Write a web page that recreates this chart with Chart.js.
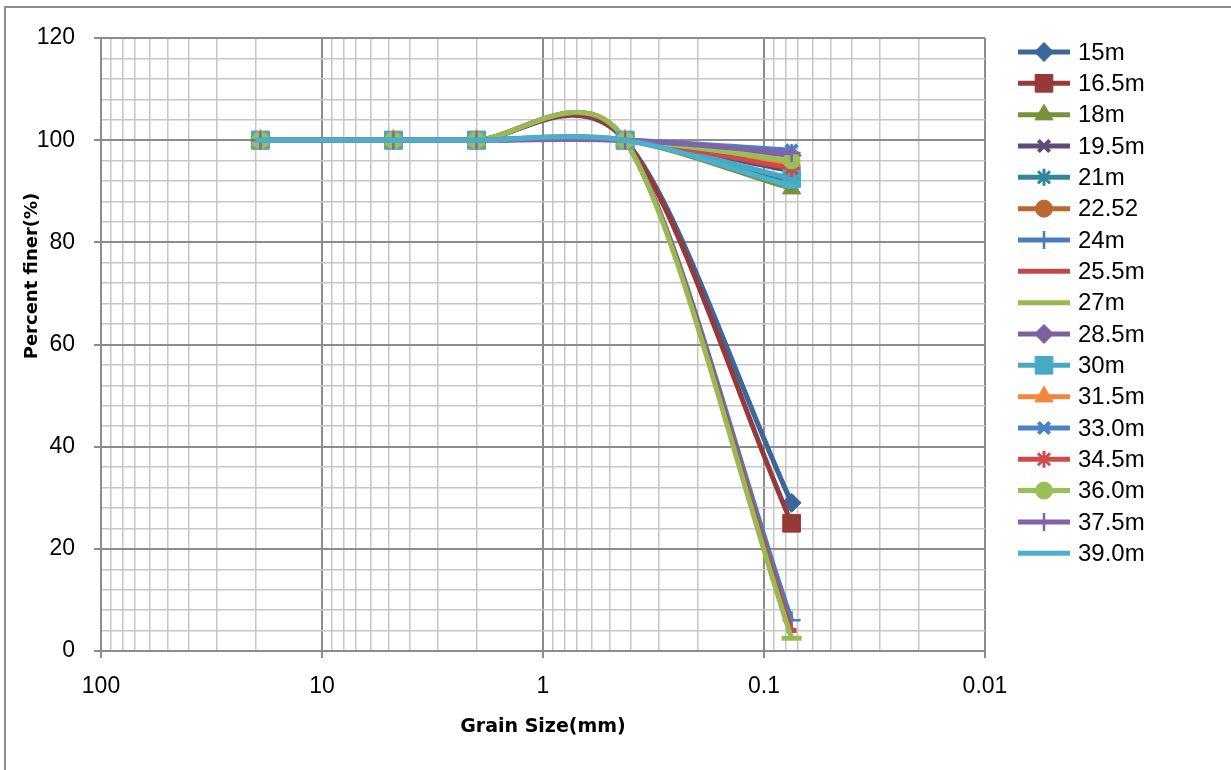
<!DOCTYPE html>
<html>
<head>
<meta charset="utf-8">
<script src="https://cdn.jsdelivr.net/npm/chart.js@4.4.1/dist/chart.umd.min.js"></script>
<style>
html,body{margin:0;padding:0;background:#ffffff;}
#wrap{position:relative;width:1231px;height:770px;overflow:hidden;}
canvas{display:block;}
</style>
</head>
<body>
<div id="wrap"><canvas id="c" width="1231" height="770"></canvas></div>
<script>
// ---------- data ----------
const grainSizes = [19, 4.75, 2, 0.425, 0.075];
const seriesNames = ['15m','16.5m','18m','19.5m','21m','22.52','24m','25.5m','27m','28.5m','30m','31.5m','33.0m','34.5m','36.0m','37.5m','39.0m'];
const d15_0 = [100,100,100,100,29];
const d16_5 = [100,100,100,100,25];
const d18_0 = [100,100,100,100,90.5];
const d19_5 = [100,100,100,100,94];
const d21_0 = [100,100,100,100,92];
const d22_52 = [100,100,100,100,95];
const d24_0 = [100,100,100,100,6];
const d25_5 = [100,100,100,100,4];
const d27_0 = [100,100,100,100,2.5];
const d28_5 = [100,100,100,100,97];
const d30_0 = [100,100,100,100,92.5];
const d31_5 = [100,100,100,100,95.5];
const d33_0 = [100,100,100,100,98];
const d34_5 = [100,100,100,100,94.5];
const d36_0 = [100,100,100,100,96];
const d37_5 = [100,100,100,100,97.5];
const d39_0 = [100,100,100,100,91];
const seriesValues = [d15_0,d16_5,d18_0,d19_5,d21_0,d22_52,d24_0,d25_5,d27_0,d28_5,d30_0,d31_5,d33_0,d34_5,d36_0,d37_5,d39_0];

const xTickLabels = ['100','10','1','0.1','0.01'];
const yTickLabels = ['0','20','40','60','80','100','120'];
const xDecades = [0.01, 0.1, 1, 10];
const xMinorSteps = [1,2,3,4,5,6,7,8,9];

// ---------- styles ----------
const seriesColors = ['#3C679D','#953A38','#76933C','#604A7B','#31859C','#BA682F','#4A7EBB','#BE4B48','#98B954',
                      '#7D60A0','#46AAC5','#F0873D','#4C80C8','#CD4B48','#99C057','#8063A8','#4BAFCD'];
const markerStyles = ['rectRot','rect','triangle','crossRot','star','circle','cross','line','line',
                      'rectRot','rect','triangle','crossRot','star','circle','cross','line'];
const markerRadius = {rectRot:9.5, rect:12.5, triangle:10.5, crossRot:8, star:8.5, circle:8.5, cross:9, line:5};
const markerBorder = {rectRot:1, rect:1, triangle:1, crossRot:4, star:3, circle:1, cross:2.5, line:5};
const lineMarkerRadius = [0,0,0,0,0,0,0,5,10,0,0,0,0,0,0,0,5];

const FONT = "'Liberation Sans', Arial, sans-serif";
const TITLE_FONT = "'DejaVu Sans', Verdana, sans-serif";
const MAJOR_GRID = '#8c8c8c';
const MINOR_GRID = '#c6c6c6';

function isDecade(v){ const l = Math.log10(v); return Math.abs(l - Math.round(l)) < 1e-9; }

const xTickValues = [];
xDecades.forEach(d => xMinorSteps.forEach(m => xTickValues.push(+(d*m).toPrecision(6))));
xTickValues.push(100);

const n = seriesNames.length;
const datasets = seriesNames.map((name, i) => {
  const st = markerStyles[i];
  const r = st === 'line' ? lineMarkerRadius[i] : markerRadius[st];
  return {
    label: name,
    data: grainSizes.map((g, k) => ({x: g, y: seriesValues[i][k]})),
    borderColor: seriesColors[i],
    backgroundColor: seriesColors[i],
    borderWidth: 5,
    tension: 0.4,
    pointStyle: st,
    pointRadius: r,
    pointHoverRadius: r,
    pointBorderWidth: markerBorder[st],
    pointBorderColor: seriesColors[i],
    pointBackgroundColor: seriesColors[i],
    order: n - 1 - i,
    clip: false
  };
});

// Excel-like smoothing of the lines (control points from the scale pixels)
function excelControlPoints(points){
  const dist = (a,b) => Math.hypot(b.x-a.x, b.y-a.y);
  for (let i = 0; i < points.length - 1; i++){
    const p1 = points[i], p2 = points[i+1];
    const p0 = i > 0 ? points[i-1] : p1;
    const p3 = i + 2 < points.length ? points[i+2] : p2;
    const d12 = dist(p1,p2), d02 = dist(p0,p2), d13 = dist(p1,p3);
    let f0 = (p0 === p1) ? 1/3 : 1/6;
    let f1 = (p3 === p2) ? 1/3 : 1/6;
    if (d02 * f0 > d12/2 && d02 > 0) f0 = d12/2/d02;
    if (d13 * f1 > d12/2 && d13 > 0) f1 = d12/2/d13;
    p1.cp2x = p1.x + f0*(p2.x - p0.x);
    p1.cp2y = p1.y + f0*(p2.y - p0.y);
    p2.cp1x = p2.x - f1*(p3.x - p1.x);
    p2.cp1y = p2.y - f1*(p3.y - p1.y);
  }
}

function drawMarker(ctx, style, radius, bw, x, y, color){
  ctx.save();
  ctx.fillStyle = color; ctx.strokeStyle = color; ctx.lineWidth = bw;
  if (Chart.helpers && Chart.helpers.drawPoint) {
    Chart.helpers.drawPoint(ctx, {pointStyle: style, radius: radius, borderWidth: bw, rotation: 0}, x, y);
  }
  ctx.restore();
}

const extras = {
  id: 'extras',
  beforeDraw(chart){
    const ctx = chart.ctx;
    ctx.save();
    ctx.strokeStyle = '#8e8e8e';
    ctx.lineWidth = 2;
    ctx.beginPath();
    ctx.moveTo(5, 770); ctx.lineTo(5, 7); ctx.lineTo(1231, 7);
    ctx.stroke();
    ctx.restore();
  },
  beforeDatasetDraw(chart, args){
    const meta = args.meta;
    const line = meta.dataset;
    if (line && typeof line.updateControlPoints === 'function') {
      line.updateControlPoints(chart.chartArea, 'x');
      excelControlPoints(meta.data);
    }
  },
  afterDraw(chart){
    const ctx = chart.ctx;
    // y axis title
    ctx.save();
    ctx.translate(32, 276);
    ctx.rotate(-Math.PI/2);
    ctx.font = 'bold 18px ' + TITLE_FONT;
    ctx.fillStyle = '#000';
    ctx.textAlign = 'center';
    ctx.textBaseline = 'middle';
    ctx.fillText('Percent finer(%)', 0, 0);
    ctx.restore();
    // legend
    const x0 = 1018, x1 = 1070, top = 52, step = 31.33;
    chart.data.datasets.forEach((ds, i) => {
      const y = top + step*i;
      ctx.save();
      ctx.strokeStyle = ds.borderColor;
      ctx.lineWidth = 5;
      ctx.beginPath(); ctx.moveTo(x0, y); ctx.lineTo(x1, y); ctx.stroke();
      ctx.restore();
      if (ds.pointStyle !== 'line') {
        drawMarker(ctx, ds.pointStyle, ds.pointRadius, ds.pointBorderWidth, (x0+x1)/2, y, ds.borderColor);
      }
      ctx.save();
      ctx.font = '24px ' + FONT;
      ctx.fillStyle = '#000';
      ctx.textAlign = 'left';
      ctx.textBaseline = 'middle';
      ctx.fillText(ds.label, 1078, y + 1);
      ctx.restore();
    });
  }
};

const chart = new Chart(document.getElementById('c'), {
  type: 'line',
  data: { datasets: datasets },
  options: {
    responsive: false,
    animation: false,
    devicePixelRatio: 1,
    events: [],
    layout: { padding: { left: 0, top: 38, right: 246, bottom: 0 } },
    plugins: { legend: { display: false }, tooltip: { enabled: false } },
    scales: {
      x: {
        type: 'logarithmic',
        reverse: true,
        min: 0.01,
        max: 100,
        afterBuildTicks: s => { s.ticks = xTickValues.map(v => ({value: v, major: isDecade(v)})); },
        afterFit: s => { s.height = 119; },
        ticks: {
          autoSkip: false, maxRotation: 0, minRotation: 0, padding: 15, color: '#000',
          font: { family: FONT, size: 23 },
          callback: (v) => isDecade(v) ? xTickLabels[2 - Math.round(Math.log10(v))] : ''
        },
        grid: {
          color: c => (c.tick && isDecade(c.tick.value)) ? MAJOR_GRID : MINOR_GRID,
          lineWidth: c => (c.tick && isDecade(c.tick.value)) ? 2 : 1.5,
          tickColor: c => (c.tick && isDecade(c.tick.value)) ? MAJOR_GRID : 'rgba(0,0,0,0)',
          tickLength: 7
        },
        border: { display: true, color: MAJOR_GRID, width: 2 },
        title: { display: true, text: 'Grain Size(mm)', color: '#000',
                 font: { family: TITLE_FONT, size: 19, weight: 'bold' }, padding: { top: 0, bottom: 32 } }
      },
      y: {
        min: 0, max: 120,
        afterBuildTicks: s => { const t = []; for (let v = 0; v <= 120; v += 4) t.push({value: v}); s.ticks = t; },
        afterFit: s => { s.width = 101; },
        ticks: {
          autoSkip: false, padding: 19, color: '#000',
          font: { family: FONT, size: 23 },
          callback: v => (v % 20 === 0) ? yTickLabels[v/20] : ''
        },
        grid: {
          color: c => (c.tick && c.tick.value % 20 === 0) ? MAJOR_GRID : MINOR_GRID,
          lineWidth: c => (c.tick && c.tick.value % 20 === 0) ? 2 : 1.5,
          tickColor: c => (c.tick && c.tick.value % 20 === 0) ? MAJOR_GRID : 'rgba(0,0,0,0)',
          tickLength: 7
        },
        border: { display: true, color: MAJOR_GRID, width: 2 }
      }
    }
  },
  plugins: [extras]
});
</script>
</body>
</html>
